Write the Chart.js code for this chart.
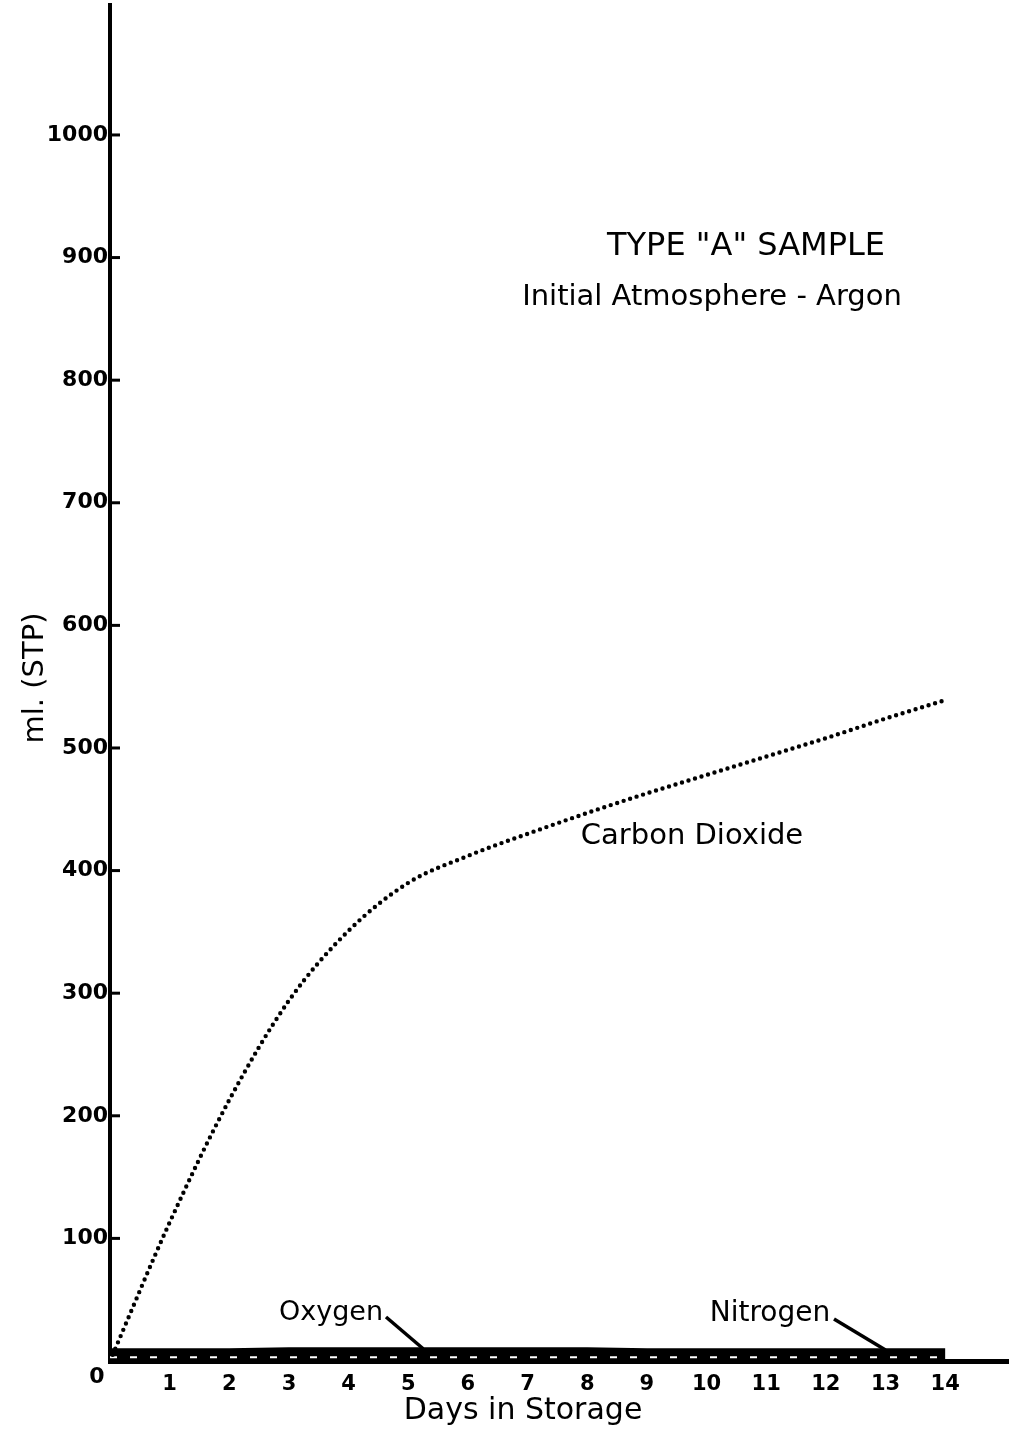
<!DOCTYPE html>
<html>
<head>
<meta charset="utf-8">
<script src="https://cdn.jsdelivr.net/npm/chart.js@4"></script>
<style>
  html, body { margin: 0; padding: 0; background: #fff; }
  #wrap { width: 1009px; height: 1432px; position: relative; }
</style>
</head>
<body>
<div id="wrap"><canvas id="c" width="1009" height="1432"></canvas></div>
<script>
// ---- data ----
const days = [0, 1, 2, 3, 4, 5, 6, 7, 8, 9, 10, 11, 12, 13, 14];
const carbonDioxide = [0, 113, 213, 294, 351, 390, 412, 430, 447, 463, 478, 493, 508, 524, 539];
const oxygen = [5, 5, 5, 6, 6, 6, 6, 6, 6, 5, 5, 5, 5, 5, 5];
const nitrogen = [3, 3, 3, 3, 3, 3, 3, 3, 3, 3, 3, 3, 3, 3, 3];
const yTickLabels = ['100', '200', '300', '400', '500', '600', '700', '800', '900', '1000'];
const xTickLabels = ['1', '2', '3', '4', '5', '6', '7', '8', '9', '10', '11', '12', '13', '14'];
const titleLines = ['TYPE "A" SAMPLE', 'Initial Atmosphere - Argon'];
const seriesLabels = ['Carbon Dioxide', 'Oxygen', 'Nitrogen'];
const xTitle = 'Days in Storage';
const yTitle = 'ml. (STP)';

const toXY = (arr) => days.map((d, i) => ({ x: d, y: arr[i] }));
const FONT = '"DejaVu Sans", sans-serif';

const annotate = {
  id: 'annotate',
  afterDatasetsDraw(chart) {
    const { ctx, scales: { x, y } } = chart;
    ctx.save();
    ctx.fillStyle = '#000';
    ctx.strokeStyle = '#000';
    // inside tick marks on y axis
    ctx.lineWidth = 3;
    yTickLabels.forEach(l => {
      const py = y.getPixelForValue(Number(l));
      ctx.beginPath();
      ctx.moveTo(x.left, py);
      ctx.lineTo(x.left + 10, py);
      ctx.stroke();
    });
    // origin label
    ctx.font = 'bold 22px ' + FONT;
    ctx.textAlign = 'center';
    ctx.textBaseline = 'middle';
    ctx.fillText('0', 97, 1377);
    // titles
    ctx.font = '32px ' + FONT;
    ctx.fillText(titleLines[0], 746, 247);
    ctx.font = '29px ' + FONT;
    ctx.fillText(titleLines[1], 712, 297);
    // series labels
    ctx.font = '29px ' + FONT;
    ctx.fillText(seriesLabels[0], 692, 836);
    ctx.font = '27px ' + FONT;
    ctx.fillText(seriesLabels[1], 331, 1313);
    ctx.font = '28px ' + FONT;
    ctx.fillText(seriesLabels[2], 770, 1314);
    // leader lines
    ctx.lineWidth = 3.5;
    ctx.beginPath();
    ctx.moveTo(386, 1317);
    ctx.lineTo(x.getPixelForValue(5.25), y.getPixelForValue(10));
    ctx.stroke();
    ctx.beginPath();
    ctx.moveTo(834, 1319);
    ctx.lineTo(x.getPixelForValue(13.0), y.getPixelForValue(9));
    ctx.stroke();
    // axis titles
    ctx.font = '30px ' + FONT;
    ctx.fillText(xTitle, 523, 1411);
    ctx.save();
    ctx.translate(35, 678);
    ctx.rotate(-Math.PI / 2);
    ctx.font = '29px ' + FONT;
    ctx.fillText(yTitle, 0, 0);
    ctx.restore();
    ctx.restore();
  }
};

new Chart(document.getElementById('c'), {
  type: 'line',
  data: {
    datasets: [
      {
        label: seriesLabels[1],
        data: toXY(oxygen),
        borderColor: '#000',
        borderWidth: 13,
        pointRadius: 0,
        tension: 0,
        order: 3
      },
      {
        label: seriesLabels[2],
        data: toXY(nitrogen),
        borderColor: '#fff',
        borderWidth: 2,
        borderDash: [7, 13],
        pointRadius: 0,
        tension: 0,
        order: 2
      },
      {
        label: seriesLabels[0],
        data: toXY(carbonDioxide),
        borderColor: '#000',
        borderWidth: 4.4,
        borderDash: [0, 6.8],
        borderCapStyle: 'round',
        pointRadius: 0,
        cubicInterpolationMode: 'monotone',
        order: 1
      }
    ]
  },
  options: {
    responsive: false,
    animation: false,
    devicePixelRatio: 1,
    layout: { padding: { top: 5, right: 0, left: 0, bottom: 0 } },
    plugins: { legend: { display: false }, tooltip: { enabled: false } },
    scales: {
      x: {
        type: 'linear',
        min: 0,
        max: 15.07,
        afterFit: s => { s.height = 71; s.paddingLeft = 0; s.paddingRight = 0; },
        afterBuildTicks: s => { s.ticks = xTickLabels.map(l => ({ value: Number(l) })); },
        grid: { display: false, drawTicks: false },
        border: { display: true, color: '#000', width: 5 },
        ticks: {
          padding: 11,
          color: '#000',
          font: { family: FONT, size: 21, weight: 'bold' },
          maxRotation: 0,
          autoSkip: false,
          callback: (v) => xTickLabels[xTickLabels.indexOf(String(v))]
        }
      },
      y: {
        type: 'linear',
        min: 0,
        max: 1106,
        afterFit: s => { s.width = 110; s.paddingTop = 0; s.paddingBottom = 0; },
        afterBuildTicks: s => { s.ticks = yTickLabels.map(l => ({ value: Number(l) })); },
        grid: { display: false, drawTicks: false },
        border: { display: true, color: '#000', width: 4 },
        ticks: {
          padding: 2,
          color: '#000',
          font: { family: FONT, size: 22, weight: 'bold' },
          autoSkip: false,
          callback: (v) => yTickLabels[yTickLabels.indexOf(String(v))]
        }
      }
    }
  },
  plugins: [annotate]
});
</script>
</body>
</html>
